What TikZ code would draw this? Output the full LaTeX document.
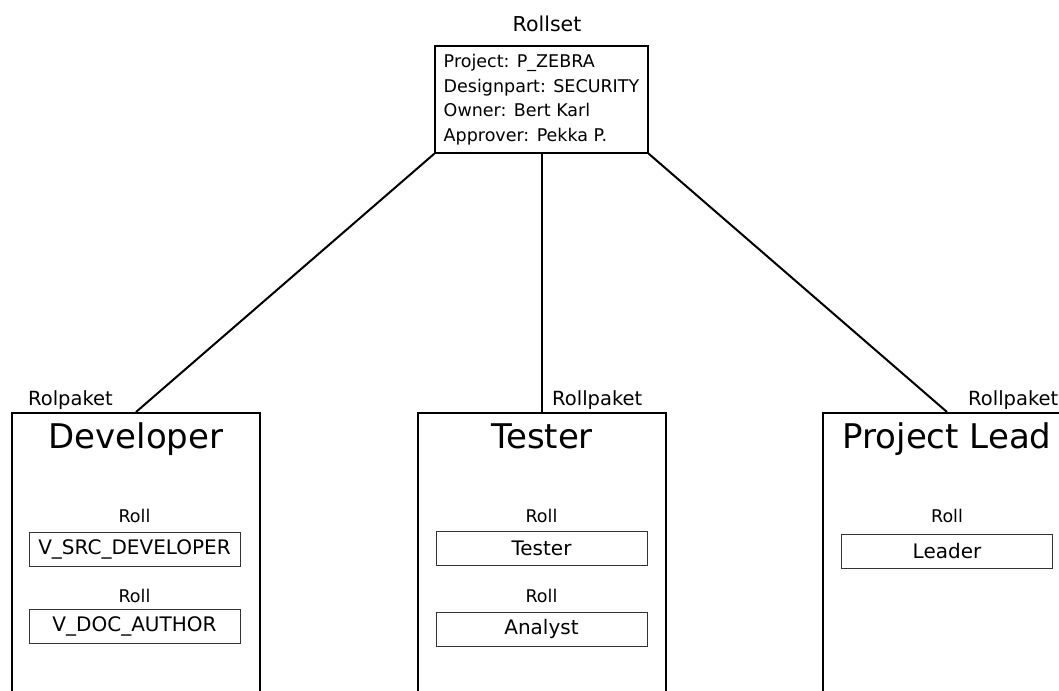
\documentclass[tikz,border=0pt]{standalone}
\usepackage{fontspec}
\setmainfont{DejaVu Sans}
\usetikzlibrary{positioning}

\begin{document}
\begin{tikzpicture}[x=1pt, y=-1pt]

    % Styles
    \tikzset{
        smalltext/.style={font=\fontsize{17.5}{24.5}\selectfont},
        setbox/.style={rectangle, draw, line width=1.5pt, minimum width=213pt, minimum height=107pt, align=left, smalltext},
        pkgbox/.style={rectangle, draw, line width=2pt, minimum width=248pt, minimum height=300pt, anchor=north},
        rolebox/.style={rectangle, draw=black!80, line width=1pt, minimum width=211pt, minimum height=34pt, font=\fontsize{20}{24}\selectfont},
        pkgtitle/.style={anchor=base, inner sep=0pt, font=\fontsize{34}{40}\selectfont},
        lbl/.style={anchor=base, inner sep=0pt, smalltext},
        pkglbl/.style={anchor=base west, inner sep=0pt, font=\fontsize{19.5}{24}\selectfont},
        link/.style={-, line width=2pt}
    }

    \clip (0,0) rectangle (1059,690);

    % Rollset
    \node[lbl, font=\fontsize{20.5}{24}\selectfont] (setlbl) at (547,32) {Rollset};
    \node[setbox] (rollset) at (541.5,99.5) {Project: P\_ZEBRA\\Designpart: SECURITY\\Owner: Bert Karl\\Approver: Pekka P.};

    % Role packages
    \node[pkgbox] (dev) at (136,412) {};
    \node[pkgbox] (test) at (541.5,412) {};
    \node[pkgbox] (lead) at (947,412) {};

    \node[pkglbl] (devlbl) at (28,405) {Rolpaket};
    \node[pkglbl] (testlbl) at (552,405) {Rollpaket};
    \node[pkglbl] (leadlbl) at (968,405) {Rollpaket};

    \node[pkgtitle] (devtitle) at (136,448) {Developer};
    \node[pkgtitle] (testtitle) at (542,448) {Tester};
    \node[pkgtitle] (leadtitle) at (947,448) {Project Lead};

    % Roles
    \node[lbl] (devroll1) at (134.5,522) {Roll};
    \node[rolebox] (devrole1) at (134.5,549) {V\_SRC\_DEVELOPER};
    \node[lbl] (devroll2) at (134.5,602) {Roll};
    \node[rolebox] (devrole2) at (134.5,626.5) {V\_DOC\_AUTHOR};

    \node[lbl] (testroll1) at (541.5,522) {Roll};
    \node[rolebox] (testrole1) at (541.5,548) {Tester};
    \node[lbl] (testroll2) at (541.5,602) {Roll};
    \node[rolebox] (testrole2) at (541.5,629) {Analyst};

    \node[lbl] (leadroll1) at (947,522) {Roll};
    \node[rolebox] (leadrole1) at (947,551) {Leader};

    % Links
    \draw[link] (rollset.south west) -- (dev.north);
    \draw[link] (rollset.south) -- (test.north);
    \draw[link] (rollset.south east) -- (lead.north);

\end{tikzpicture}
\end{document}
